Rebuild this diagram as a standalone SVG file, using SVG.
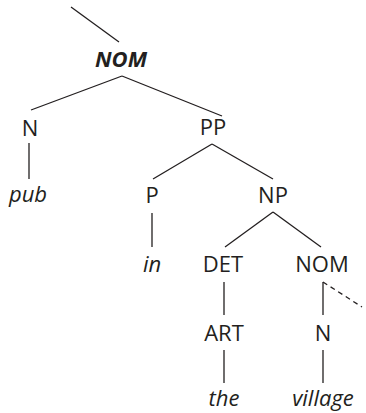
<svg xmlns="http://www.w3.org/2000/svg" width="366" height="413" viewBox="0 0 366 413">
<style>
text{font-family:"Open Sans","Noto Sans",sans-serif;font-size:22px;fill:#231f20;text-anchor:middle}
.i{font-style:italic}
.b{font-weight:bold;font-style:italic}
line{stroke:#231f20;stroke-width:1.3}
.d{stroke-dasharray:5,4}
</style>
<rect width="366" height="413" fill="#fff"/>
<g id="connectors">
<line x1="71" y1="7" x2="119" y2="42"/>
<line x1="122" y1="76" x2="31" y2="110"/>
<line x1="122" y1="76" x2="222" y2="116"/>
<line x1="29" y1="143" x2="29" y2="179"/>
<line x1="212" y1="144" x2="153" y2="179"/>
<line x1="212" y1="144" x2="273" y2="179"/>
<line x1="152" y1="213" x2="152" y2="247"/>
<line x1="273" y1="212" x2="225" y2="247"/>
<line x1="273" y1="212" x2="321" y2="247"/>
<line x1="224" y1="282" x2="224" y2="315"/>
<line x1="224" y1="350" x2="224" y2="383"/>
<line x1="323" y1="282" x2="323" y2="315"/>
<line class="d" x1="323" y1="282" x2="362" y2="307"/>
<line x1="323" y1="350" x2="323" y2="383"/>
</g>
<g id="nom-top"><text class="b" x="121" y="67">NOM</text></g>
<g id="n1"><text x="30" y="136">N</text></g>
<g id="pub"><text class="i" x="28" y="202">pub</text></g>
<g id="pp"><text x="213" y="135">PP</text></g>
<g id="p"><text x="152" y="203">P</text></g>
<g id="in"><text class="i" x="152" y="272">in</text></g>
<g id="np"><text x="273" y="203">NP</text></g>
<g id="det"><text x="223" y="272">DET</text></g>
<g id="nom2"><text x="322" y="272">NOM</text></g>
<g id="art"><text x="224" y="341">ART</text></g>
<g id="n2"><text x="323" y="341">N</text></g>
<g id="the"><text class="i" x="224" y="406">the</text></g>
<g id="village"><text class="i" x="323" y="406">village</text></g>
</svg>
